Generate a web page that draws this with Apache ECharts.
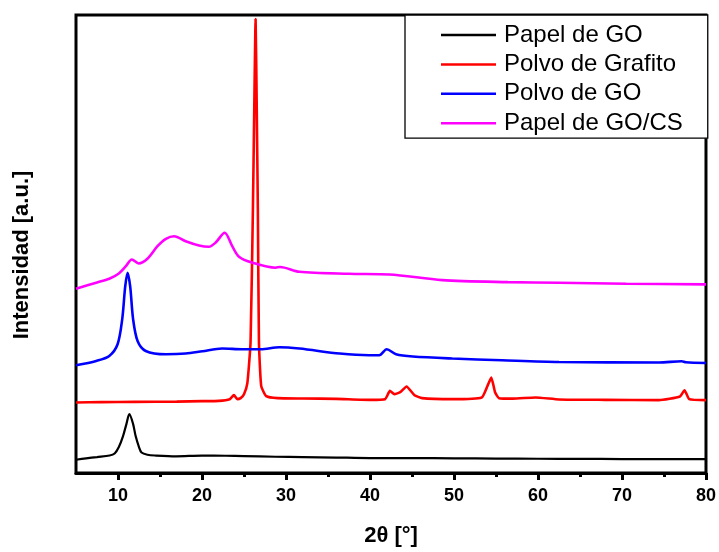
<!DOCTYPE html>
<html>
<head>
<meta charset="utf-8">
<script src="https://cdn.jsdelivr.net/npm/echarts@6/dist/echarts.min.js"></script>
<style>
  html, body { margin: 0; padding: 0; background: #fff; }
  #chart { width: 719px; height: 552px; }
</style>
</head>
<body>
<div id="chart"></div>
<script>
// XRD patterns, intensity in arbitrary units (curves stacked with offsets)
const seriesNames = ['Papel de GO', 'Polvo de Grafito', 'Polvo de GO', 'Papel de GO/CS'];

const xPapelGO = [5.0, 6.2, 7.5, 9.0, 9.6, 10.1, 10.6, 11.0, 11.35, 11.8, 12.1, 12.5, 12.8, 13.5, 14.5, 16.9, 20, 22.8, 25, 28.75, 32, 36, 40, 45, 50, 55, 60, 65, 70, 75, 80];
const yPapelGO = [13.3, 14.7, 16, 17.5, 19.5, 26, 37, 49, 59, 49, 37, 26, 20.5, 18.3, 17.5, 16.7, 17.5, 17.3, 17, 16.3, 16, 15.5, 15, 15, 14.7, 14.5, 14.3, 14.2, 14, 14, 14];

const xGrafito = [5.0, 8, 12, 17, 20, 22, 23.3, 23.8, 24.2, 24.6, 25.0, 25.4, 25.78, 26.06, 26.22, 26.38, 26.52, 26.65, 26.78, 27.05, 27.65, 29, 32, 36, 40, 41.8, 42.37, 42.9, 43.6, 44.35, 45.3, 46.2, 49.8, 53.3, 53.97, 54.44, 54.9, 55.36, 57, 59.7, 62.5, 68, 74.4, 76.9, 77.45, 78.0, 80];
const yGrafito = [70.7, 71, 71.3, 71.5, 72, 72.3, 74, 78, 74, 75, 79, 90, 131, 264, 364, 455, 364, 264, 131, 87, 77, 75, 74.7, 74.3, 73.3, 74, 82.3, 79, 81, 86.7, 78, 75, 74, 75.7, 87, 95.7, 80.7, 75, 74.5, 75.7, 73.7, 73.3, 73, 76.7, 83, 74, 73];

const xPolvoGO = [5.0, 7.4, 8.96, 9.95, 10.5, 10.86, 11.14, 11.45, 11.8, 12.33, 13.3, 15.7, 18.06, 20.05, 22.4, 24.8, 27, 29.2, 31.6, 36.4, 39.9, 41.1, 42.0, 43.1, 45.1, 49.8, 55.7, 62.5, 74.4, 77.1, 77.6, 80];
const yPolvoGO = [108, 112.3, 117.3, 129, 154, 187, 200.7, 187, 154, 132.3, 122.3, 119, 119.7, 122, 124.7, 124, 124, 126, 124.7, 119.7, 118, 118, 124, 119, 116.7, 114.7, 113, 111.3, 110.7, 112, 111, 110.3];

const xPapelGOCS = [5.0, 7.4, 8.96, 10.1, 10.94, 11.65, 12.45, 13.5, 14.7, 15.7, 16.68, 18.06, 19.65, 20.8, 21.6, 22.7, 23.6, 24.4, 26.0, 28.75, 29.3, 31.6, 37.5, 42.3, 48.6, 56.4, 62.5, 70.5, 80];
const yPapelGOCS = [184.7, 190.7, 194.7, 200, 207.3, 214, 210, 214.7, 227.3, 234.7, 237.3, 232.3, 228, 226.7, 230.7, 240.7, 227.3, 216.7, 210.7, 205.7, 206.5, 201.7, 199.7, 199, 193.3, 191.3, 190.7, 189.7, 189];

const majorTicks = [10, 20, 30, 40, 50, 60, 70, 80];
const minorTicks = [15, 25, 35, 45, 55, 65, 75];

const colors = ['#000000', '#ff0000', '#0000ff', '#ff00ff'];
const xs = [xPapelGO, xGrafito, xPolvoGO, xPapelGOCS];
const ys = [yPapelGO, yGrafito, yPolvoGO, yPapelGOCS];
const smoothing = [0.3, 0.15, 0.3, 0.3];

const FONT = "'Liberation Sans', Arial, sans-serif";

const chart = echarts.init(document.getElementById('chart'), null, { renderer: 'canvas' });

const series = seriesNames.map((name, i) => ({
  name: name,
  type: 'line',
  data: xs[i].map((x, k) => [x, ys[i][k]]),
  symbol: 'none',
  smooth: smoothing[i],
  lineStyle: { color: colors[i], width: i === 0 ? 2.2 : 2.6 },
  itemStyle: { color: colors[i] },
  z: 3
}));

chart.setOption({
  animation: false,
  backgroundColor: '#ffffff',
  grid: {
    left: 76, right: 11, top: 15, bottom: 78,
    show: true, borderColor: '#000', borderWidth: 3, backgroundColor: 'transparent'
  },
  legend: {
    show: true,
    orient: 'vertical',
    left: 405, top: 15,
    padding: [8, 25, 3, 36],
    icon: 'rect',
    itemWidth: 55, itemHeight: 2.5, itemGap: 5.4,
    borderColor: '#000', borderWidth: 1.3,
    backgroundColor: '#fff',
    textStyle: { fontFamily: FONT, fontSize: 24, color: '#000', lineHeight: 24, padding: [0, 0, 0, 3] },
    data: seriesNames
  },
  xAxis: [
    {
      type: 'value', min: 5, max: 80,
      name: '2θ [°]', nameLocation: 'middle', nameGap: 52,
      nameTextStyle: { fontFamily: FONT, fontSize: 22, fontWeight: 'bold', color: '#000' },
      axisLine: { show: true, onZero: false, lineStyle: { color: '#000', width: 3 } },
      axisTick: { show: true, inside: false, length: 7, customValues: majorTicks, lineStyle: { color: '#000', width: 3 } },
      axisLabel: { show: true, customValues: majorTicks, margin: 14, fontFamily: FONT, fontSize: 18, fontWeight: 'bold', color: '#000' },
      splitLine: { show: false }
    },
    {
      type: 'value', min: 5, max: 80, position: 'bottom',
      axisLine: { show: false, onZero: false },
      axisTick: { show: true, inside: false, length: 4, customValues: minorTicks, lineStyle: { color: '#000', width: 3 } },
      axisLabel: { show: false },
      splitLine: { show: false }
    }
  ],
  yAxis: {
    type: 'value', min: 0, max: 459,
    axisLine: { show: false }, axisTick: { show: false },
    axisLabel: { show: false }, splitLine: { show: false }
  },
  graphic: [{
    type: 'text',
    x: 22, y: 255,
    rotation: Math.PI / 2,
    style: {
      text: 'Intensidad [a.u.]',
      fontFamily: FONT, fontSize: 22, fontWeight: 'bold', fill: '#000',
      align: 'center', verticalAlign: 'middle'
    }
  }],
  series: series
});
</script>
</body>
</html>
